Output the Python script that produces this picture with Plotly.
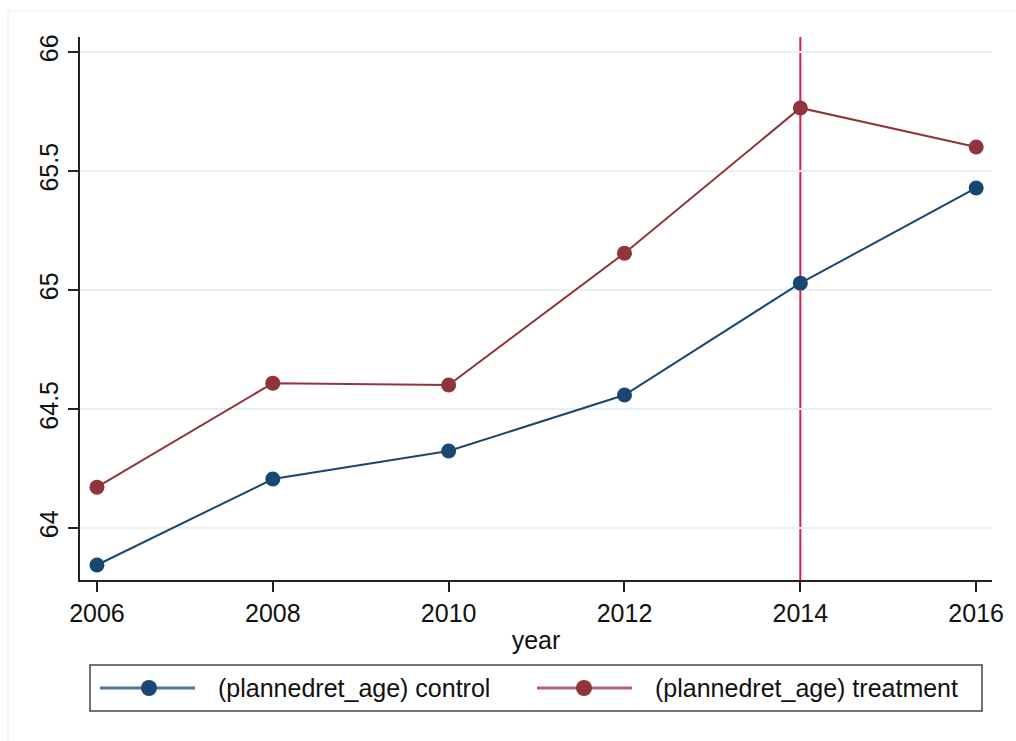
import plotly.graph_objects as go

# Mean planned retirement age by survey year, control vs. treatment group
years = [2006, 2008, 2010, 2012, 2014, 2016]
control = [63.845, 64.206, 64.324, 64.559, 65.029, 65.429]
treatment = [64.172, 64.609, 64.601, 65.155, 65.765, 65.601]
series_names = ["(plannedret_age) control", "(plannedret_age) treatment"]
policy_year = 2014

y_ticks = [64, 64.5, 65, 65.5, 66]
y_tick_text = ["64", "64.5", "65", "65.5", "66"]

NAVY = "#1a476f"
MAROON = "#90353b"
CRANBERRY = "#d21f4e"
GRID = "#e8f0f2"
FONT = "Liberation Sans, Arial, sans-serif"
FS = 25

W, H = 1016, 741
L, R, T, B = 80, 24, 37, 161
PW, PH = W - L - R, H - T - B


def px_x(px):
    return (px - L) / PW


def px_y(py):
    return (H - B - py) / PH


fig = go.Figure()

for name, vals, col in [(series_names[0], control, NAVY), (series_names[1], treatment, MAROON)]:
    fig.add_trace(go.Scatter(
        x=years, y=vals, name=name, mode="lines+markers",
        line=dict(color=col, width=2),
        marker=dict(color=col, size=15),
        showlegend=False,
    ))

# Vertical reference line at the policy year
fig.add_shape(type="line", xref="x", yref="paper", x0=policy_year, x1=policy_year,
              y0=0, y1=1, line=dict(color=CRANBERRY, width=2), layer="below")

# Faint outer frame of the graph region
fig.add_shape(type="rect", xref="paper", yref="paper",
              x0=px_x(8), x1=px_x(1030), y0=px_y(11), y1=px_y(760),
              line=dict(color="#eeeeee", width=1), layer="below")

# Legend box
leg_y = 688
fig.add_shape(type="rect", xref="paper", yref="paper",
              x0=px_x(90), x1=px_x(982), y0=px_y(665), y1=px_y(711),
              line=dict(color="#444444", width=1.5))

legend_items = [
    (series_names[0], NAVY, 100, 195, 149, 216),
    (series_names[1], MAROON, 537, 632, 584, 653),
]
for text, col, lx0, lx1, mx, tx in legend_items:
    fig.add_shape(type="line", xref="paper", yref="paper",
                  x0=px_x(lx0), x1=px_x(lx1), y0=px_y(leg_y), y1=px_y(leg_y),
                  line=dict(color=col, width=3), opacity=0.75)
    r = 8
    fig.add_shape(type="circle", xref="paper", yref="paper",
                  x0=px_x(mx - r), x1=px_x(mx + r), y0=px_y(leg_y - r), y1=px_y(leg_y + r),
                  fillcolor=col, line=dict(color=col, width=0))
    fig.add_annotation(xref="paper", yref="paper", x=px_x(tx), y=px_y(leg_y),
                       text=text, showarrow=False, xanchor="left", yanchor="middle",
                       font=dict(family=FONT, size=FS, color="#111111"))

fig.update_layout(
    width=W, height=H,
    margin=dict(l=L, r=R, t=T, b=B, pad=0),
    paper_bgcolor="white", plot_bgcolor="white",
    font=dict(family=FONT, size=FS, color="#111111"),
    xaxis=dict(
        range=[2005.807, 2016.18], tickvals=years, ticktext=[str(y) for y in years],
        showgrid=False, zeroline=False,
        showline=True, linecolor="#222222", linewidth=1.5,
        ticks="outside", ticklen=10, tickwidth=1.5, tickcolor="#222222",
        title=dict(text="year", standoff=6, font=dict(size=FS)),
    ),
    yaxis=dict(
        range=[63.782, 66.063], tickvals=y_ticks, ticktext=y_tick_text, tickangle=-90,
        showgrid=True, gridcolor=GRID, gridwidth=1.5, zeroline=False,
        showline=True, linecolor="#222222", linewidth=1.5,
        ticks="outside", ticklen=10, tickwidth=1.5, tickcolor="#222222",
    ),
)

fig.write_html("out.html")
